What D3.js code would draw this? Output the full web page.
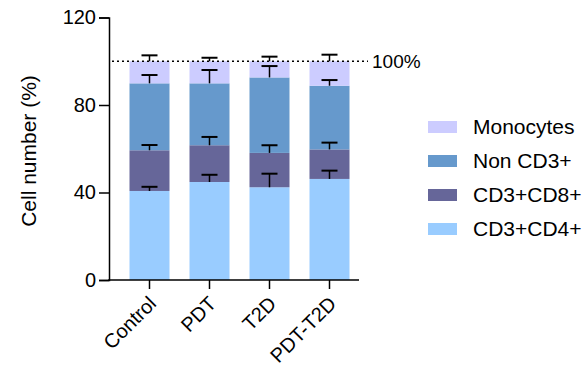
<!DOCTYPE html>
<html>
<head>
<meta charset="utf-8">
<script src="https://cdn.jsdelivr.net/npm/d3@7"></script>
<style>
  body { margin: 0; background: #fff; }
  text { font-family: "Liberation Sans", Arial, sans-serif; fill: #000; }
</style>
</head>
<body>
<div id="chart"></div>
<script>
const groups = ["Control", "PDT", "T2D", "PDT-T2D"];
const seriesNames = ["CD3+CD4+", "CD3+CD8+", "Non CD3+", "Monocytes"];
const seriesColors = ["#99ccff", "#666699", "#6699cc", "#ccccff"];

// mean % of each population, per group
const cd4 = [40.7, 44.8, 42.4, 46.2];
const cd8 = [18.6, 16.8, 15.7, 13.5];
const nonCd3 = [30.6, 28.3, 34.5, 29.1];
const monocytes = [10.1, 10.1, 7.4, 11.2];

// SD (upper error bar only)
const cd4Sd = [1.9, 3.3, 6.2, 3.8];
const cd8Sd = [2.4, 3.8, 3.5, 3.1];
const nonCd3Sd = [3.8, 6.1, 5.2, 2.6];
const monocytesSd = [2.7, 1.6, 2.1, 3.0];

const yTicks = [0, 40, 80, 120];
const refLine = 100;

const means = [cd4, cd8, nonCd3, monocytes];
const sds = [cd4Sd, cd8Sd, nonCd3Sd, monocytesSd];

const width = 584, height = 367;
const svg = d3.select("#chart").append("svg")
    .attr("width", width)
    .attr("height", height);

const y = d3.scaleLinear().domain([0, 120]).range([280, 17.5]);
const x = d3.scaleBand().domain(groups)
    .range([119.5, 359.5])
    .paddingInner(1 / 3)
    .paddingOuter(1 / 6);

// stack the series
const rows = groups.map((g, i) => {
    const r = { group: g };
    seriesNames.forEach((s, k) => r[s] = means[k][i]);
    return r;
});
const stacked = d3.stack().keys(seriesNames)(rows);

const barGroup = svg.append("g");
stacked.forEach((layer, k) => {
    barGroup.selectAll(null)
        .data(layer)
        .join("rect")
        .attr("x", d => x(d.data.group))
        .attr("width", x.bandwidth())
        .attr("y", d => y(d[1]))
        .attr("height", d => y(d[0]) - y(d[1]))
        .attr("fill", seriesColors[k]);
});

// error bars (upward)
const errGroup = svg.append("g")
    .attr("stroke", "#000")
    .attr("fill", "none");
stacked.forEach((layer, k) => {
    layer.forEach((d, i) => {
        const cx = x(d.data.group) + x.bandwidth() / 2;
        const top = y(d[1]);
        const end = y(d[1] + sds[k][i]);
        errGroup.append("line")
            .attr("x1", cx).attr("x2", cx)
            .attr("y1", top).attr("y2", end)
            .attr("stroke-width", 1.5);
        errGroup.append("line")
            .attr("x1", cx - 8).attr("x2", cx + 8)
            .attr("y1", end).attr("y2", end)
            .attr("stroke-width", 2);
    });
});

// 100% reference line
svg.append("line")
    .attr("x1", 112).attr("x2", 368)
    .attr("y1", y(refLine)).attr("y2", y(refLine))
    .attr("stroke", "#000")
    .attr("stroke-width", 1.3)
    .attr("stroke-dasharray", "2,3");
svg.append("text")
    .attr("x", 372)
    .attr("y", y(refLine))
    .attr("dy", "0.35em")
    .attr("font-size", 19)
    .text("100%");

// y axis
const yAxis = svg.append("g")
    .attr("transform", "translate(109,0)")
    .call(d3.axisLeft(y).tickValues(yTicks).tickSize(10).tickPadding(3));
yAxis.select(".domain").attr("stroke-width", 1.5);
yAxis.selectAll(".tick line").attr("stroke-width", 1.5);
yAxis.selectAll("text").attr("font-size", 20).style("font-family", "Liberation Sans, Arial, sans-serif");

// x axis
const xAxisG = svg.append("g");
xAxisG.append("line")
    .attr("x1", 108.25).attr("x2", 359)
    .attr("y1", 280).attr("y2", 280)
    .attr("stroke", "#000").attr("stroke-width", 1.5);
xAxisG.selectAll(".xtick")
    .data(groups)
    .join("line")
    .attr("x1", d => x(d) + x.bandwidth() / 2)
    .attr("x2", d => x(d) + x.bandwidth() / 2)
    .attr("y1", 280).attr("y2", 289)
    .attr("stroke", "#000").attr("stroke-width", 1.5);
xAxisG.selectAll(".xlabel")
    .data(groups)
    .join("text")
    .attr("text-anchor", "end")
    .attr("font-size", 20)
    .attr("transform", d => `translate(${x(d) + x.bandwidth() / 2 + 3},${300}) rotate(-45)`)
    .attr("dy", "0.35em")
    .text(d => d);

// y axis title
svg.append("text")
    .attr("transform", "translate(36,151) rotate(-90)")
    .attr("text-anchor", "middle")
    .attr("font-size", 21)
    .text("Cell number (%)");

// legend (top to bottom: reverse stack order)
const legendItems = seriesNames.map((s, k) => ({ name: s, color: seriesColors[k] })).reverse();
const legend = svg.append("g");
const lg = legend.selectAll("g")
    .data(legendItems)
    .join("g")
    .attr("transform", (d, i) => `translate(428,${127 + i * 34})`);
lg.append("rect")
    .attr("x", 0).attr("y", -6)
    .attr("width", 29).attr("height", 12)
    .attr("fill", d => d.color);
lg.append("text")
    .attr("x", 45)
    .attr("dy", "0.35em")
    .attr("font-size", 21)
    .text(d => d.name);
</script>
</body>
</html>
